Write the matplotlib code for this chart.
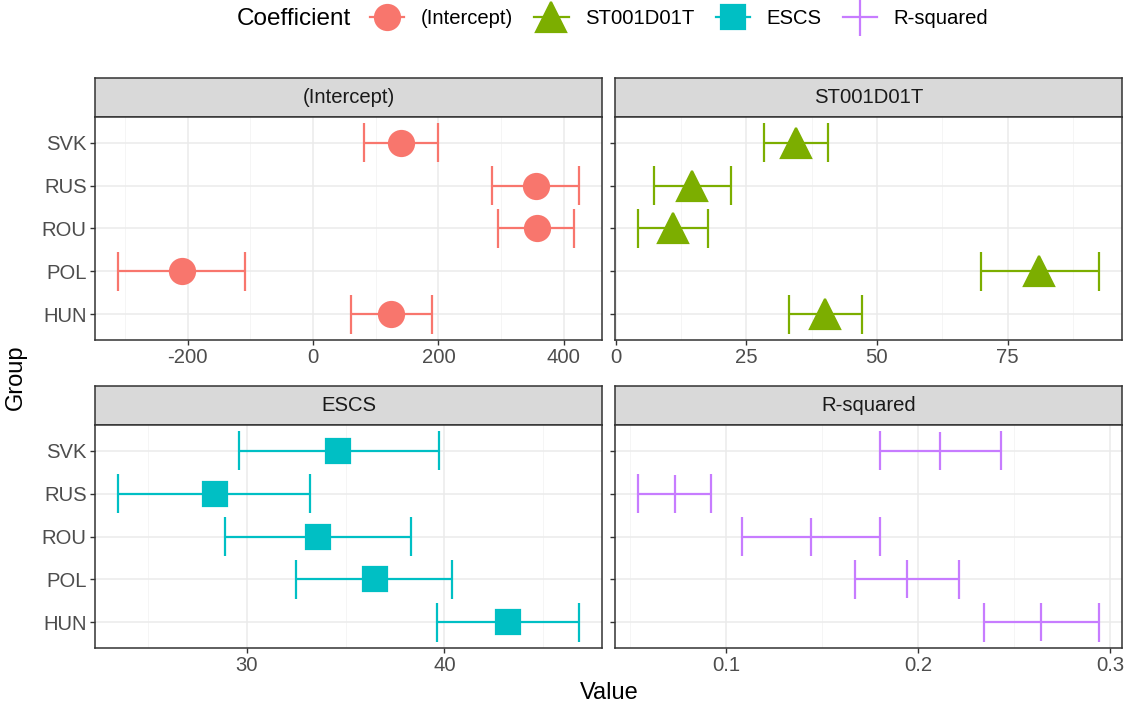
import numpy as np
import matplotlib.pyplot as plt
from matplotlib.lines import Line2D

plt.rcParams['font.family'] = ['Liberation Sans', 'DejaVu Sans']

groups = ["HUN", "POL", "ROU", "RUS", "SVK"]
coefficients = ["(Intercept)", "ST001D01T", "ESCS", "R-squared"]

intercept_est = [125, -209, 357, 355, 140]
intercept_lo = [61, -311, 295, 286, 81]
intercept_hi = [190, -108, 416, 424, 200]

st_est = [40.1, 81.1, 11.0, 14.7, 34.5]
st_lo = [33.1, 69.9, 4.3, 7.3, 28.4]
st_hi = [47.1, 92.5, 17.7, 22.1, 40.7]

escs_est = [43.2, 36.5, 33.6, 28.4, 34.6]
escs_lo = [39.6, 32.5, 28.9, 23.5, 29.6]
escs_hi = [46.8, 40.4, 38.3, 33.2, 39.7]

r2_est = [0.264, 0.194, 0.144, 0.073, 0.211]
r2_lo = [0.234, 0.167, 0.108, 0.054, 0.180]
r2_hi = [0.294, 0.221, 0.180, 0.092, 0.243]

major_ticks = [[-200, 0, 200, 400], [0, 25, 50, 75], [30, 40], [0.1, 0.2, 0.3]]
minor_ticks = [[-300, -100, 100, 300], [12.5, 37.5, 62.5, 87.5], [25, 35, 45], [0.05, 0.15, 0.25]]
tick_labels = [["-200", "0", "200", "400"], ["0", "25", "50", "75"], ["30", "40"], ["0.1", "0.2", "0.3"]]

colors = ["#F8766D", "#7CAE00", "#00BFC4", "#C77CFF"]
markers = ["o", "^", "s", "|"]
msizes = [18, 22, 17.5, 28]

series = [(intercept_est, intercept_lo, intercept_hi),
          (st_est, st_lo, st_hi),
          (escs_est, escs_lo, escs_hi),
          (r2_est, r2_lo, r2_hi)]

W, H = 1130, 711
fig = plt.figure(figsize=(W / 100, H / 100), dpi=100)


def px_axes(x0, y0, x1, y1):
    return fig.add_axes([x0 / W, 1 - y1 / H, (x1 - x0) / W, (y1 - y0) / H])


# panel boxes in pixels: (left, strip top, right, panel bottom)
boxes = [(95, 78, 602, 340), (615, 78, 1122, 340),
         (95, 386, 602, 648), (615, 386, 1122, 648)]
strip_h = 39
border = '#333333'
fs = 14.6

for i, (name, (est, lo, hi)) in enumerate(zip(coefficients, series)):
    x0, top, x1, bottom = boxes[i]
    c = colors[i]

    strip = px_axes(x0, top, x1, top + strip_h)
    strip.set_facecolor('#D9D9D9')
    strip.set_xticks([])
    strip.set_yticks([])
    for s in strip.spines.values():
        s.set_color(border)
        s.set_linewidth(1.1)
    strip.text(0.5, 0.5, name, ha='center', va='center', fontsize=fs, color='#1A1A1A',
               transform=strip.transAxes)

    ax = px_axes(x0, top + strip_h, x1, bottom)
    y = np.arange(1, len(groups) + 1)
    ax.hlines(y, lo, hi, color=c, lw=1.6, zorder=3)
    ax.vlines(lo, y - 0.45, y + 0.45, color=c, lw=1.6, zorder=3)
    ax.vlines(hi, y - 0.45, y + 0.45, color=c, lw=1.6, zorder=3)
    ax.plot(est, y, linestyle='none', marker=markers[i], ms=msizes[i], color=c,
            mew=1.6, zorder=4)

    span = max(hi) - min(lo)
    ax.set_xlim(min(lo) - 0.05 * span, max(hi) + 0.05 * span)
    ax.set_ylim(0.4, 5.6)
    ax.set_xticks(major_ticks[i])
    ax.set_xticklabels(tick_labels[i])
    ax.set_xticks(minor_ticks[i], minor=True)
    ax.set_yticks(y)
    if i % 2 == 0:
        ax.set_yticklabels(groups)
    else:
        ax.set_yticklabels([])
        ax.tick_params(axis='y', length=0)

    ax.set_axisbelow(True)
    ax.grid(which='major', color='#EBEBEB', lw=1.1)
    ax.xaxis.grid(True, which='minor', color='#F4F4F4', lw=0.6)
    ax.tick_params(which='minor', length=0)
    ax.tick_params(which='major', length=3.5, width=1.0, color=border,
                   labelcolor='#4D4D4D', labelsize=fs, pad=2.5)
    for s in ax.spines.values():
        s.set_color(border)
        s.set_linewidth(1.1)

fig.text(609 / W, 1 - 693 / H, "Value", ha='center', va='center', fontsize=17)
fig.text(16 / W, 1 - 377 / H, "Group", ha='center', va='center', rotation=90, fontsize=17)

# legend
fig.text(237 / W, 1 - 19 / H, "Coefficient", ha='left', va='center', fontsize=17.5)
handles = []
for c, m, ms in zip(colors, markers, msizes):
    handles.append(Line2D([], [], color=c, marker=m, ms=ms, mew=1.6, lw=1.6))
fig.legend(handles, coefficients, loc='center left', ncol=4,
           bbox_to_anchor=(370 / W, 1 - 19 / H), frameon=False, fontsize=fs,
           borderpad=0, borderaxespad=0,
           handlelength=1.7, handletextpad=0.8, columnspacing=1.05)

fig.savefig("out.png", dpi=100, facecolor='white')
